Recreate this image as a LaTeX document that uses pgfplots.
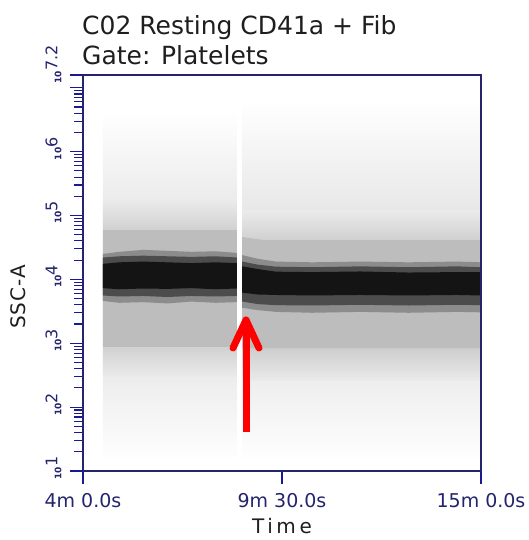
\documentclass[border=0pt]{standalone}
\usepackage{pgfplots}
\pgfplotsset{compat=1.18}
\usepackage{fontspec}
\setmainfont{DejaVu Sans}
\definecolor{navy}{RGB}{35,35,110}
\definecolor{tickblue}{RGB}{25,25,150}
\definecolor{txt}{RGB}{30,30,30}
\newcommand\ylab[1]{{\fontsize{9}{9}\selectfont\bfseries 10}\raisebox{4pt}{\fontsize{16}{16}\selectfont #1}}
\begin{document}
\begin{tikzpicture}
\useasboundingbox (-83pt,-69pt) rectangle (446pt,471pt);
\begin{axis}[
  at={(0pt,0pt)}, anchor=south west,
  scale only axis, width=398pt, height=396pt,
  xmin=240, xmax=900, ymode=log, ymin=10, ymax=1.5849e7,
  axis on top,
  axis line style={draw=navy, line width=1.3pt},
  tick align=outside, xtick pos=bottom, ytick pos=left,
  major tick length=13pt, minor tick length=9pt,
  every tick/.style={tickblue, line width=1.1pt},
  xtick={240,570,900},
  xticklabels={4m 0.0s, 9m 30.0s, 15m 0.0s},
  xticklabel style={font=\fontsize{19}{19}\selectfont, text=navy, anchor=base, yshift=-24pt},
  ytick={10,100,1000,1e4,1e5,1e6,1e7},
  yticklabels={\ylab{1},\ylab{2},\ylab{3},\ylab{4},\ylab{5},\ylab{6},{}},
  extra y ticks={1.5849e7},
  extra y tick labels={\ylab{7.2}},
  minor ytick={20,30,40,50,60,70,80,90,200,300,400,500,600,700,800,900,2000,3000,4000,5000,6000,7000,8000,9000,2e4,3e4,4e4,5e4,6e4,7e4,8e4,9e4,2e5,3e5,4e5,5e5,6e5,7e5,8e5,9e5,2e6,3e6,4e6,5e6,6e6,7e6,8e6,9e6},
  yticklabel style={text=navy, rotate=90, anchor=south west, xshift=-12pt, yshift=5pt},
]
% left segment: speckle halo (shaded), then density bands
\addplot[draw=none, top color=white, bottom color=white, middle color=black!15] coordinates {(273,4.47e6) (495,4.47e6) (495,13.8) (273,13.8)};
\addplot[draw=none, top color=black!8, bottom color=black!8, middle color=black!38] coordinates {(273,1.74e5) (495,1.74e5) (495,300) (273,300)};
\addplot[fill=black!26, draw=none] coordinates {(273,5.91e4) (495,5.91e4) (495,873) (273,873)};
\addplot[fill=black!45, draw=none] coordinates {(273,2.5e4) (300,2.7e4) (340,2.9e4) (380,2.8e4) (420,2.7e4) (460,2.75e4) (495,2.6e4)
  (495,4.4e3) (460,4.3e3) (420,4.5e3) (380,4.2e3) (340,4.4e3) (300,4.3e3) (273,4.6e3)};
\addplot[fill=black!70, draw=none] coordinates {(273,2.2e4) (300,2.3e4) (340,2.35e4) (380,2.3e4) (420,2.25e4) (460,2.3e4) (495,2.2e4)
  (495,5.5e3) (460,5.4e3) (420,5.5e3) (380,5.3e3) (340,5.5e3) (300,5.4e3) (273,5.6e3)};
\addplot[fill=black!92, draw=none] coordinates {(273,1.75e4) (300,1.85e4) (340,1.9e4) (380,1.85e4) (420,1.8e4) (460,1.85e4) (495,1.8e4)
  (495,7.2e3) (460,7.0e3) (420,7.3e3) (380,7.1e3) (340,7.2e3) (300,7.0e3) (273,7.3e3)};
% right segment
\addplot[draw=none, top color=white, bottom color=white, middle color=black!15] coordinates {(504,6.4e6) (900,6.4e6) (900,13.8) (504,13.8)};
\addplot[draw=none, top color=black!8, bottom color=black!8, middle color=black!38] coordinates {(504,1.2e5) (900,1.2e5) (900,260) (504,260)};
\addplot[fill=black!26, draw=none] coordinates {(504,4.6e4) (540,4.12e4) (900,4.12e4) (900,841) (504,841)};
\addplot[fill=black!45, draw=none] coordinates {(504,2.4e4) (530,2.1e4) (560,1.9e4) (620,1.85e4) (700,1.9e4) (780,1.85e4) (860,1.9e4) (900,1.85e4)
  (900,3.05e3) (860,3.1e3) (780,3.0e3) (700,3.1e3) (620,3.0e3) (560,3.1e3) (530,3.3e3) (504,3.6e3)};
\addplot[fill=black!70, draw=none] coordinates {(504,1.9e4) (530,1.7e4) (560,1.58e4) (620,1.55e4) (700,1.6e4) (780,1.55e4) (860,1.6e4) (900,1.55e4)
  (900,3.95e3) (860,4.0e3) (780,3.9e3) (700,4.0e3) (620,3.9e3) (560,3.95e3) (530,4.1e3) (504,4.5e3)};
\addplot[fill=black!92, draw=none] coordinates {(504,1.6e4) (530,1.45e4) (560,1.32e4) (620,1.3e4) (700,1.33e4) (780,1.28e4) (860,1.3e4) (900,1.3e4)
  (900,5.6e3) (860,5.7e3) (780,5.6e3) (700,5.7e3) (620,5.6e3) (560,5.7e3) (530,5.8e3) (504,6.2e3)};
\end{axis}
% annotations
\draw[red, line width=7pt] (163pt,39pt) -- (163pt,145pt);
\draw[red, line width=7pt, line cap=round, line join=round] (150pt,123pt) -- (163pt,151pt) -- (176pt,123pt);
\node[anchor=base west, inner sep=0pt, text=txt, font=\fontsize{25}{25}\selectfont] at (-1pt,436pt) {C02 Resting CD41a + Fib};
\node[anchor=base west, inner sep=0pt, text=txt, font=\fontsize{25}{25}\selectfont] at (-1pt,406pt) {Gate: Platelets};
\node[anchor=base, inner sep=0pt, text=txt, font=\fontsize{20}{20}\selectfont\addfontfeature{LetterSpace=18}] at (199pt,-63pt) {Time};
\node[rotate=90, inner sep=0pt, text=txt, font=\fontsize{20}{20}\selectfont\addfontfeature{LetterSpace=5}] at (-65pt,174pt) {SSC-A};
\end{tikzpicture}
\end{document}
